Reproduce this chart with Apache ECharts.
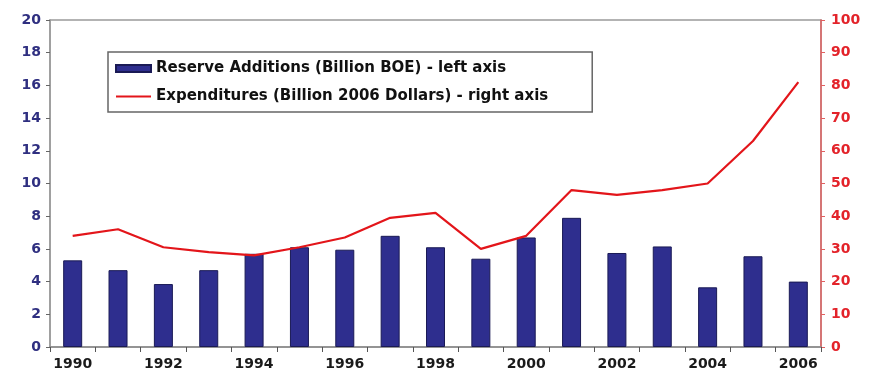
<!DOCTYPE html>
<html>
<head>
<meta charset="utf-8">
<script src="https://cdn.jsdelivr.net/npm/echarts@6/dist/echarts.min.js"></script>
<style>html,body{margin:0;padding:0;background:#fff;}#c{width:871px;height:379px;}</style>
</head>
<body>
<div id="c"></div>
<script>
const years = ['1990','1991','1992','1993','1994','1995','1996','1997','1998','1999','2000','2001','2002','2003','2004','2005','2006'];
const reserveAdditions = [5.3, 4.7, 3.85, 4.7, 5.7, 6.1, 5.95, 6.8, 6.1, 5.4, 6.7, 7.9, 5.75, 6.15, 3.65, 5.55, 4.0];
const expenditures = [34, 36, 30.5, 29, 28, 30.5, 33.5, 39.5, 41, 30, 34, 48, 46.5, 48, 50, 63, 81];
const leftTicks = [0, 20, 2];
const rightTicks = [0, 100, 10];

const FONT = 'DejaVu Sans, Verdana, sans-serif';
const chart = echarts.init(document.getElementById('c'));
chart.setOption({
  animation: false,
  backgroundColor: '#ffffff',
  textStyle: { fontFamily: FONT },
  grid: { left: 50, right: 50, top: 20, bottom: 32, show: true, borderColor: '#9a9a9a', borderWidth: 1.5, backgroundColor: 'transparent' },
  legend: {
    orient: 'vertical',
    left: 108,
    top: 52,
    padding: [8, 44, 7, 7],
    itemGap: 11,
    itemWidth: 35,
    itemHeight: 7,
    borderColor: '#666',
    borderWidth: 1.5,
    textStyle: { fontSize: 15, fontWeight: 'bold', color: '#111', fontFamily: FONT, lineHeight: 17 },
    data: [
      { name: 'Reserve Additions (Billion BOE) - left axis', icon: 'rect' },
      { name: 'Expenditures (Billion 2006 Dollars) - right axis', itemStyle: { opacity: 0 } }
    ]
  },
  xAxis: {
    type: 'category',
    data: years,
    boundaryGap: true,
    axisLine: { lineStyle: { color: '#8a8a8a', width: 1.5 } },
    axisTick: { show: true, interval: 0, alignWithLabel: false, length: 5, lineStyle: { color: '#555' } },
    axisLabel: { interval: 1, fontSize: 14, fontWeight: 'bold', color: '#1a1a1a', margin: 10 }
  },
  yAxis: [
    {
      type: 'value', min: leftTicks[0], max: leftTicks[1], interval: leftTicks[2],
      axisLine: { show: true, lineStyle: { color: '#9a9a9a', width: 1.5 } },
      axisTick: { show: true, length: 4, lineStyle: { color: '#666' } },
      splitLine: { show: false },
      axisLabel: { fontSize: 14, fontWeight: 'bold', color: '#2f2f80', margin: 9 }
    },
    {
      type: 'value', min: rightTicks[0], max: rightTicks[1], interval: rightTicks[2], position: 'right',
      axisLine: { show: true, lineStyle: { color: '#e06060', width: 1.5 } },
      axisTick: { show: true, length: 4, lineStyle: { color: '#e06060' } },
      splitLine: { show: false },
      axisLabel: { fontSize: 14, fontWeight: 'bold', color: '#e3232a', margin: 10 }
    }
  ],
  series: [
    {
      name: 'Reserve Additions (Billion BOE) - left axis',
      type: 'bar',
      yAxisIndex: 0,
      data: reserveAdditions,
      barWidth: 19,
      itemStyle: { color: '#2e2e8e', borderColor: '#1a1a55', borderWidth: 1 }
    },
    {
      name: 'Expenditures (Billion 2006 Dollars) - right axis',
      type: 'line',
      yAxisIndex: 1,
      data: expenditures,
      symbol: 'none',
      lineStyle: { color: '#e3151a', width: 2.2 },
      itemStyle: { color: '#e3151a' }
    }
  ]
});
</script>
</body>
</html>
